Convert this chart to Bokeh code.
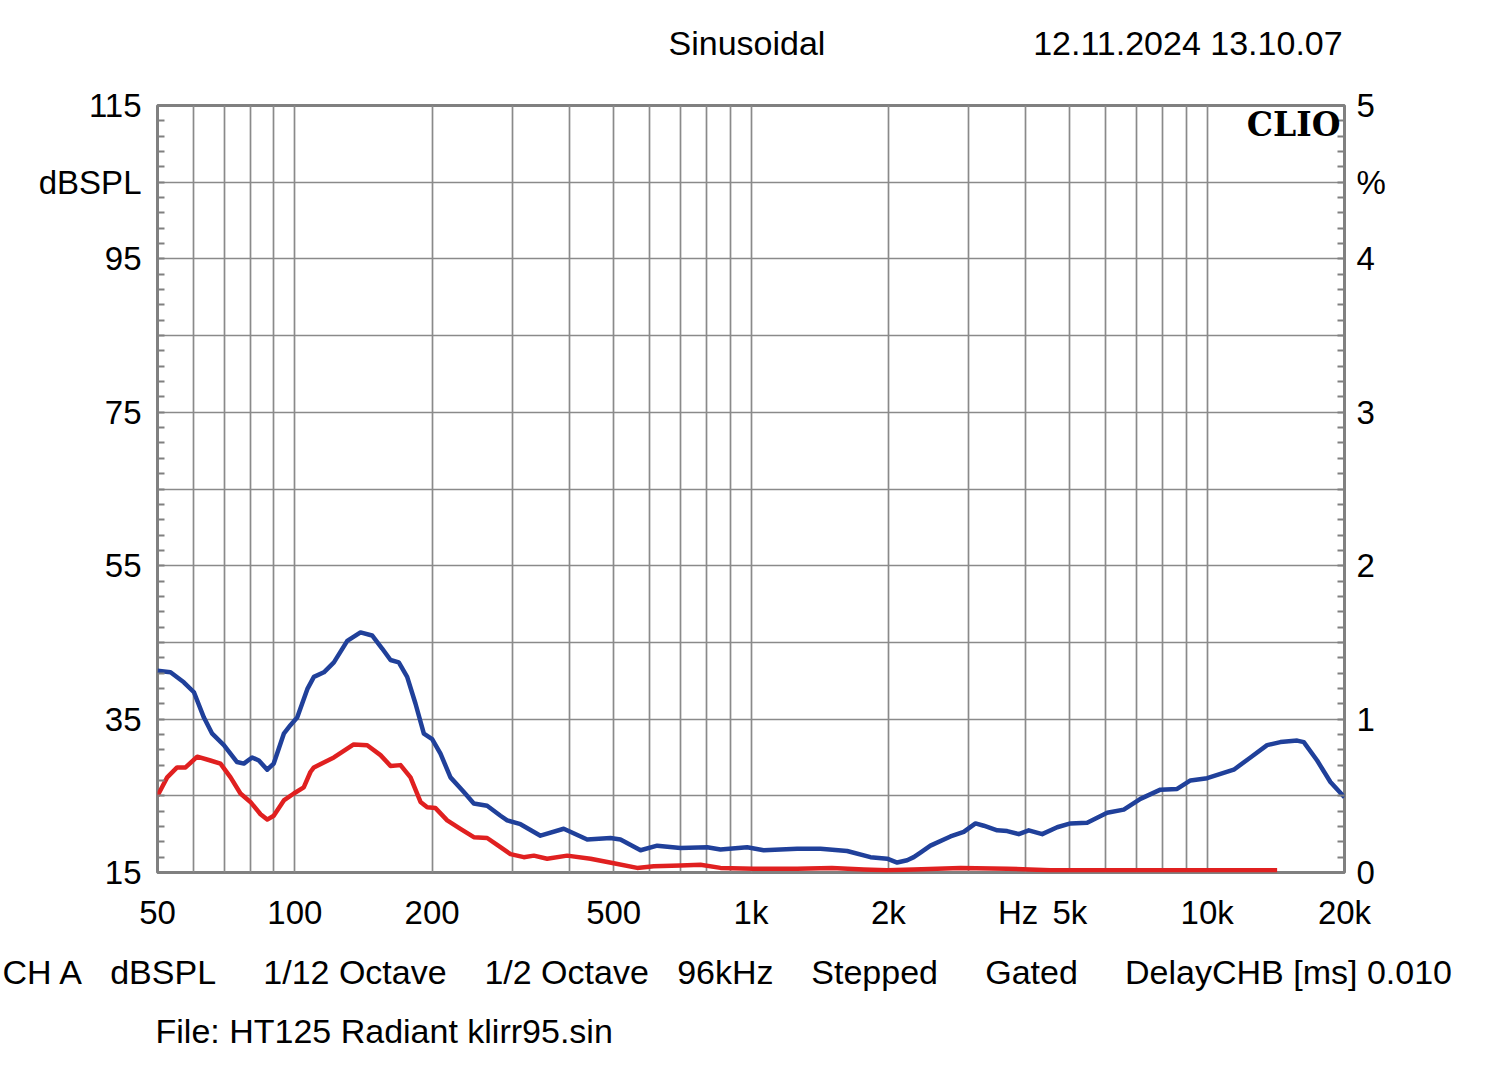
from bokeh.plotting import figure
from bokeh.models import Range1d, LinearAxis, FixedTicker, Label, Title
from bokeh.embed import file_html
from bokeh.resources import INLINE

# ---- data, frequency in Hz, level in dBSPL ----
blue_f = [50, 53.4, 57.1, 60.1, 63.2, 65.9, 69.9, 74.7, 77.3, 80.6, 83.4, 87.0, 89.9, 94.6, 97.8,
          101.2, 106.5, 110.1, 115.8, 121.8, 130.3, 139.3, 147.7, 155.4, 162.1, 169.0, 176.3,
          183.9, 191.8, 200.0, 208.6, 219.4, 234.7, 246.8, 264.0, 282.4, 292.1, 312.4, 345.5,
          388.6, 437.4, 492.0, 517.4, 572.6, 622.8, 700.5, 801.6, 857.2, 980.7, 1066.5, 1262.7,
          1420.3, 1624.6, 1827.5, 1988.4, 2091.3, 2199.4, 2274.1, 2352, 2474, 2736.9, 2926.8,
          3105.2, 3238.1, 3464.3, 3644.3, 3863.4, 4063.2, 4348.4, 4690, 5015, 5456, 6036, 6564,
          7140, 7898, 8592, 9191, 10000, 11437, 12440, 13533, 14471, 15752, 16284, 17420, 18627,
          20000]
blue_db = [41.3, 41.1, 39.8, 38.5, 35.2, 33.1, 31.6, 29.4, 29.2, 30.0, 29.6, 28.4, 29.2, 33.1, 34.2,
           35.2, 38.9, 40.5, 41.1, 42.4, 45.2, 46.3, 45.9, 44.2, 42.7, 42.4, 40.5,
           37.0, 33.1, 32.4, 30.5, 27.4, 25.5, 24.0, 23.7, 22.4, 21.8, 21.3, 19.8,
           20.7, 19.3, 19.5, 19.3, 17.9, 18.5, 18.2, 18.3, 18.0, 18.3, 17.9, 18.1,
           18.1, 17.8, 17.0, 16.8, 16.3, 16.6, 17.0, 17.6, 18.5, 19.7, 20.3,
           21.4, 21.1, 20.5, 20.4, 20.0, 20.5, 20.0, 20.9, 21.4, 21.5, 22.8, 23.2,
           24.6, 25.8, 25.9, 27.0, 27.3, 28.4, 30.0, 31.6, 32.0, 32.2, 32.0, 29.6, 26.8,
           24.8]

red_f = [50, 52.5, 55.2, 57.6, 61.1, 65.3, 68.7, 72.3, 76.0, 79.9, 84.1, 87.0, 89.9, 94.6, 99.5,
         104.6, 108.2, 110.1, 121.8, 134.6, 144.1, 154.1, 162.1, 170.5, 179.3, 188.6, 195.1,
         203.4, 215.8, 230.7, 246.8, 264.0, 277.7, 297.0, 317.6, 334.2, 357.4, 395.4, 444.8,
         500.2, 563.0, 612.1, 700.5, 775.0, 857.2, 1014, 1262.7, 1504, 1767, 1988, 2274, 2879,
         3649, 4535, 7510, 14235]
red_db = [25.0, 27.4, 28.7, 28.7, 30.1, 29.6, 29.2, 27.4, 25.3, 24.2, 22.6, 21.9, 22.4, 24.4, 25.3,
          26.1, 28.1, 28.7, 30.0, 31.7, 31.6, 30.3, 28.9, 29.0, 27.4, 24.2, 23.5,
          23.4, 21.8, 20.7, 19.6, 19.5, 18.6, 17.4, 17.0, 17.2, 16.8, 17.2, 16.8,
          16.2, 15.6, 15.8, 15.9, 16.0, 15.6, 15.5, 15.5, 15.6, 15.4, 15.3, 15.4, 15.6,
          15.5, 15.3, 15.3, 15.3]

x_ticks = [50, 100, 200, 500, 1000, 2000, 3850, 5000, 10000, 20000]
x_labels = ["50", "100", "200", "500", "1k", "2k", "Hz", "5k", "10k", "20k"]
x_grid = [60, 70, 80, 90, 100, 200, 300, 400, 500, 600, 700, 800, 900, 1000, 2000, 3000, 4000,
          5000, 6000, 7000, 8000, 9000, 10000, 20000]
y_ticks = [15, 35, 55, 75, 95, 105, 115]
y_labels = ["15", "35", "55", "75", "95", "dBSPL", "115"]
y_grid = [15, 25, 35, 45, 55, 65, 75, 85, 95, 105, 115]
pct_ticks = [0, 1, 2, 3, 4, 4.5, 5]
pct_labels = ["0", "1", "2", "3", "4", "%", "5"]

# header / footer items and the non-breaking-space gaps between them
top_items = ["Sinusoidal", "12.11.2024 13.10.07"]
top_gaps = [22]
bottom_items = ["CH A", "dBSPL", "1/12 Octave", "1/2 Octave", "96kHz", "Stepped", "Gated",
                "DelayCHB [ms] 0.010"]
bottom_gaps = [3, 5, 4, 3, 4, 5, 5]
file_text = "File: HT125 Radiant klirr95.sin"

FONT = "Liberation Sans"
TXT = "34px"
GRID = "#8a8a8a"
NBSP = "\u00a0"


def join(items, gaps):
    out = items[0]
    for it, g in zip(items[1:], gaps):
        out += NBSP * g + it
    return out


# frame: left 157, right 1344, top 105, bottom 872
p = figure(width=1500, height=1074, x_axis_type="log", output_backend="svg",
           toolbar_location=None, x_range=Range1d(50, 20000), y_range=Range1d(15, 115),
           min_border_left=157, min_border_right=156, min_border_top=105,
           min_border_bottom=202)
p.background_fill_color = "white"
p.border_fill_color = "white"
p.outline_line_color = "#808080"
p.outline_line_width = 3

p.extra_y_ranges = {"pct": Range1d(0, 5)}

p.xgrid.ticker = FixedTicker(ticks=x_grid)
p.ygrid.ticker = FixedTicker(ticks=y_grid)
for g in (p.xgrid, p.ygrid):
    g.grid_line_color = GRID
    g.grid_line_width = 1.7

xa = p.xaxis[0]
xa.ticker = FixedTicker(ticks=x_ticks, minor_ticks=[])
xa.major_label_overrides = {t: l for t, l in zip(x_ticks, x_labels)}
xa.axis_line_color = None
xa.major_tick_line_color = None
xa.minor_tick_line_color = None
xa.major_label_standoff = 15
xa.major_label_text_font = FONT
xa.major_label_text_font_size = "33px"
xa.major_label_text_color = "black"

ya = p.yaxis[0]
ya.ticker = FixedTicker(ticks=y_ticks, minor_ticks=list(range(15, 116, 2)))
ya.major_label_overrides = {t: l for t, l in zip(y_ticks, y_labels)}
ya.axis_line_color = None
ya.major_tick_line_color = None
ya.minor_tick_line_color = "#808080"
ya.minor_tick_line_width = 2
ya.minor_tick_in = 7
ya.minor_tick_out = 0
ya.major_label_standoff = 10
ya.major_label_text_font = FONT
ya.major_label_text_font_size = "33px"
ya.major_label_text_color = "black"

ra = LinearAxis(y_range_name="pct",
                ticker=FixedTicker(ticks=pct_ticks, minor_ticks=[i / 10 for i in range(0, 51)]))
ra.major_label_overrides = {t: l for t, l in zip(pct_ticks, pct_labels)}
ra.axis_line_color = None
ra.major_tick_line_color = None
ra.minor_tick_line_color = "#808080"
ra.minor_tick_line_width = 2
ra.minor_tick_in = 7
ra.minor_tick_out = 0
ra.major_label_standoff = 6
ra.major_label_text_font = FONT
ra.major_label_text_font_size = "33px"
ra.major_label_text_color = "black"
p.add_layout(ra, "right")

p.line(red_f, red_db, line_color="#e02020", line_width=4.5, line_join="round")
p.line(blue_f, blue_db, line_color="#20409a", line_width=4.5, line_join="round")

p.add_layout(Label(x=20000, y=115, x_offset=-4, y_offset=-19, text="CLIO", text_align="right",
                   text_baseline="middle", text_font="DejaVu Serif", text_font_size="33px",
                   text_font_style="bold", text_color="black"))


# header and footer rows as titles
def title(text, offset, standoff, valign):
    return Title(text=text, align="left", offset=offset, standoff=standoff,
                 vertical_align=valign, text_font=FONT, text_font_size=TXT,
                 text_font_style="normal", text_color="black")


p.add_layout(title(NBSP, 0, 4, "bottom"), "above")          # spacer next to the frame
p.add_layout(title(join(top_items, top_gaps), 668 - 157, 0, "bottom"), "above")
p.add_layout(title(join(bottom_items, bottom_gaps), 2 - 157, 38, "top"), "below")
p.add_layout(title(file_text, 155 - 157, 0, "top"), "below")

open("out.html", "w").write(file_html(p, INLINE))
